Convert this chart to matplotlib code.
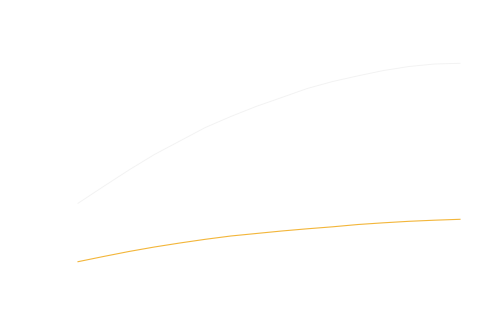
# two smooth curves on a blank canvas, no axes or text

import matplotlib
matplotlib.use('Agg')
import matplotlib.pyplot as plt

steps = list(range(16))
upper = [120.7, 137.5, 154, 169.5, 183, 196.5, 207.5, 217.6,
         226.5, 235.5, 242.5, 248.2, 253.5, 257.5, 260, 260.7]
lower = [62.3, 67.5, 72.5, 77, 81, 84.7, 88, 90.5,
         93, 95.2, 97.2, 99.5, 101.2, 102.7, 103.8, 104.7]

fig = plt.figure(figsize=(5, 3.24), dpi=100)
ax = fig.add_axes([0, 0, 1, 1])
ax.plot(steps, upper, color='#f2f2f2', linewidth=0.65)
ax.plot(steps, lower, color='#f3b63a', linewidth=0.8)

# first step sits at 78px, last at 460px
last = steps[-1]
span = (460 - 78) / last
ax.set_xlim(-78 / span, last + (500 - 460) / span)
ax.set_ylim(0, 324)
ax.axis('off')

fig.savefig('out.png', dpi=100)
